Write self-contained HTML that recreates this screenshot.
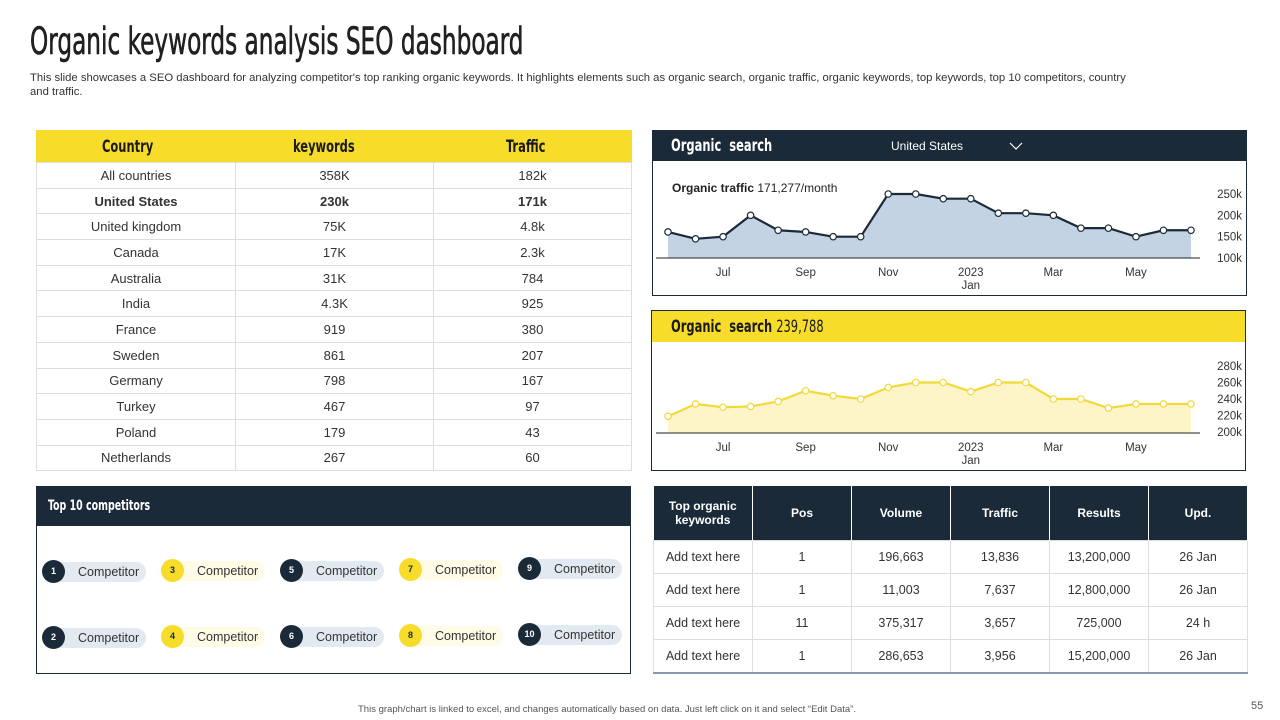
<!DOCTYPE html>
<html><head><meta charset="utf-8">
<style>
*{margin:0;padding:0;box-sizing:border-box}
body{width:1280px;height:720px;background:#fff;font-family:"Liberation Sans",sans-serif;position:relative;overflow:hidden;color:#222}
.disp{font-family:"DejaVu Sans Condensed","Liberation Sans Narrow","Liberation Sans",sans-serif;font-weight:bold;display:inline-block;transform-origin:left center}
.abs{position:absolute}
table{border-collapse:collapse}
#ctab{left:36px;top:130px;width:596px;border:1px solid #f7dc2a}
#ctab th{background:#f7dc2a;height:32px;font-size:17px;color:#1a1a1a}
#ctab td{height:25.7px;font-size:13px;text-align:center;border:1px solid #ddd;color:#333}
#ktab{left:653px;top:486px;width:595px}
#ktab th{background:#1b2a38;color:#fff;height:54px;font-size:12px;border-right:1px solid #fff;font-weight:bold}
#ktab td{height:33.3px;font-size:12.5px;text-align:center;border:1px solid #ddd;color:#333}
.pill{position:absolute;height:20px;border-radius:10px;font-size:12.5px;line-height:20px;padding-left:30px;width:98px;color:#333}
.pill .n{position:absolute;left:-6px;top:-2px;width:23px;height:23px;border-radius:50%;font-size:9px;font-weight:bold;text-align:center;line-height:23px}
</style></head><body>
<div class="abs" style="left:30px;top:20px;font-size:37px;"><span class="disp" style="font-weight:normal;transform:scaleX(0.697);font-family:'DejaVu Sans Condensed',sans-serif;white-space:nowrap;-webkit-text-stroke:0.6px #111">Organic keywords analysis SEO dashboard</span></div>
<div class="abs" style="left:30px;top:71px;width:1100px;font-size:11.3px;line-height:14px;color:#333">This slide showcases a SEO dashboard for analyzing competitor's top ranking organic keywords. It highlights elements such as organic search, organic traffic, organic keywords, top keywords, top 10 competitors, country and traffic.</div>

<table id="ctab" class="abs">
<tr><th style="width:199px"><span class="disp" style="transform:scaleX(0.75)">Country</span></th><th style="width:198px"><span class="disp" style="transform:scaleX(0.75)">keywords</span></th><th><span class="disp" style="transform:scaleX(0.75)">Traffic</span></th></tr>
<tr><td>All countries</td><td>358K</td><td>182k</td></tr>
<tr style="font-weight:bold"><td><b>United States</b></td><td><b>230k</b></td><td><b>171k</b></td></tr>
<tr><td>United kingdom</td><td>75K</td><td>4.8k</td></tr>
<tr><td>Canada</td><td>17K</td><td>2.3k</td></tr>
<tr><td>Australia</td><td>31K</td><td>784</td></tr>
<tr><td>India</td><td>4.3K</td><td>925</td></tr>
<tr><td>France</td><td>919</td><td>380</td></tr>
<tr><td>Sweden</td><td>861</td><td>207</td></tr>
<tr><td>Germany</td><td>798</td><td>167</td></tr>
<tr><td>Turkey</td><td>467</td><td>97</td></tr>
<tr><td>Poland</td><td>179</td><td>43</td></tr>
<tr><td>Netherlands</td><td>267</td><td>60</td></tr>
</table>

<div class="abs" style="left:652px;top:130px;width:595px;height:166px;border:1px solid #1b2a38">
 <div style="height:30px;background:#1b2a38;position:relative">
  <span class="disp" style="color:#fff;font-size:17px;position:absolute;left:18px;top:5px;transform:scaleX(0.75)">Organic &nbsp;search</span>
  <span style="position:absolute;left:238px;top:8px;color:#fff;font-size:12px">United States</span>
  <svg style="position:absolute;left:356px;top:10px" width="14" height="10"><polyline points="1,2 7,8 13,2" fill="none" stroke="#fff" stroke-width="1.2"/></svg>
 </div>
 <div style="position:absolute;left:19px;top:50px;font-size:12px"><b>Organic traffic</b> 171,277/month</div>
</div>
<div class="abs" style="left:651px;top:310px;width:595px;height:161px;border:1px solid #1b2a38">
 <div style="height:31px;background:#f7dc2a;position:relative">
  <span class="disp" style="color:#1a1a1a;font-size:17px;position:absolute;left:19px;top:6px;transform:scaleX(0.75)">Organic &nbsp;search <span style="font-weight:normal">239,788</span></span>
 </div>
</div>
<svg class="abs" id="charts" style="left:0;top:0" width="1280" height="720"></svg>

<div class="abs" style="left:36px;top:486px;width:595px;height:188px;border:1px solid #1b2a38">
 <div style="height:39px;background:#1b2a38;position:relative"><span class="disp" style="color:#fff;font-size:14px;position:absolute;left:11px;top:11px;transform:scaleX(0.75)">Top 10 competitors</span></div>
</div>
<div id="pills"></div>

<table id="ktab" class="abs">
<tr><th style="width:99px">Top organic<br>keywords</th><th style="width:99px">Pos</th><th style="width:99px">Volume</th><th style="width:99px">Traffic</th><th style="width:99px">Results</th><th>Upd.</th></tr>
<tr><td>Add text here</td><td>1</td><td>196,663</td><td>13,836</td><td>13,200,000</td><td>26 Jan</td></tr>
<tr><td>Add text here</td><td>1</td><td>11,003</td><td>7,637</td><td>12,800,000</td><td>26 Jan</td></tr>
<tr><td>Add text here</td><td>11</td><td>375,317</td><td>3,657</td><td>725,000</td><td>24 h</td></tr>
<tr style="border-bottom:2px solid #8a9aae"><td>Add text here</td><td>1</td><td>286,653</td><td>3,956</td><td>15,200,000</td><td>26 Jan</td></tr>
</table>

<div class="abs" style="left:358px;top:704px;font-size:9.5px;color:#555">This graph/chart is linked to excel, and changes automatically based on data. Just left click on it and select “Edit Data”.</div>
<div class="abs" style="left:1251px;top:700px;font-size:11px;color:#555">55</div>

<script>
const months=["Jun","Jul","Aug","Aug","Sep","Sep","Oct","Oct","Nov","Dec","Dec","Jan","Jan","Feb","Feb","Mar","Apr","Apr","May","Jun"];
const xLabels=["Jul","Sep","Nov","2023","Mar","May"];
const xLabelIdx=[2,5,8,11,14,17];
const trafficValues=[161,145,150,200,165,161,150,150,250,250,239,239,205,205,200,170,170,150,165,165];
const trafficTicks=[250,200,150,100];
const searchValues=[219,234,230,231,237,250,244,240,254,260,260,249,260,260,240,240,229,234,234,234];
const searchTicks=[280,260,240,220,200];
const compNums=[1,2,3,4,5,6,7,8,9,10];

const svg=document.getElementById('charts');
const NS='http://www.w3.org/2000/svg';
function mk(t,a){const e=document.createElementNS(NS,t);for(const k in a)e.setAttribute(k,a[k]);svg.appendChild(e);return e;}
function drawChart(vals,ticks,vmin,vmax,yTop,yBot,fill,stroke,dot,baseY,nameP){
  const x0=668,x1=1191;
  const xs=i=>x0+(x1-x0)*i/(vals.length-1);
  const ys=v=>yBot-(v-vmin)/(vmax-vmin)*(yBot-yTop);
  let pts=vals.map((v,i)=>xs(i)+','+ys(v)).join(' ');
  const area=mk('polygon',{points:xs(0)+','+baseY+' '+pts+' '+xs(vals.length-1)+','+baseY,fill:fill});
  
  
  const ln=mk('polyline',{points:pts,fill:'none',stroke:stroke,'stroke-width':2.2});
  
  
  const ax=mk('line',{x1:656,x2:1200,y1:baseY,y2:baseY,stroke:'#222','stroke-width':1});
  
  
  vals.forEach((v,i)=>{const c=mk('circle',{cx:xs(i),cy:ys(v),r:3.2,fill:'#fff',stroke:dot,'stroke-width':1.2});
    
    });
  ticks.forEach(t=>{const e=mk('text',{x:1242,y:ys(t)+4,'text-anchor':'end','font-size':11.5,fill:'#333','font-family':'Liberation Sans'});e.textContent=t+'k';
    
    });
  xLabels.forEach((l,j)=>{const e=mk('text',{x:xs(xLabelIdx[j]),y:baseY+18,'text-anchor':'middle','font-size':11.5,fill:'#333','font-family':'Liberation Sans'});e.textContent=l;
    
    
    if(l==='2023'){const e2=mk('text',{x:xs(xLabelIdx[j]),y:baseY+31,'text-anchor':'middle','font-size':11.5,fill:'#333','font-family':'Liberation Sans'});e2.textContent='Jan';
      
      }});
}
drawChart(trafficValues,trafficTicks,100,250,194,258,'#c3d3e3','#1b2a38','#1b2a38',258,'traffic');
drawChart(searchValues,searchTicks,200,280,366,432,'#fdf5c8','#f2d93a','#f2d93a',433,'search');

const pills=document.getElementById('pills');
compNums.forEach((n,i)=>{
  const col=Math.floor(i/2),row=i%2;
  const yellow=col%2===1;
  const p=document.createElement('div');
  p.className='pill';
  
  
  p.style.left=(48+col*119)+'px';
  p.style.top=(562-col*0.7+row*66)+'px';
  p.style.background=yellow?'#fffbe6':'#e3e9f0';
  p.innerHTML='<span class="n" style="background:'+(yellow?'#f7dc2a':'#1b2a38')+';color:'+(yellow?'#1b2a38':'#fff')+'">'+n+'</span>Competitor';
  pills.appendChild(p);
});
</script>
</body></html>
